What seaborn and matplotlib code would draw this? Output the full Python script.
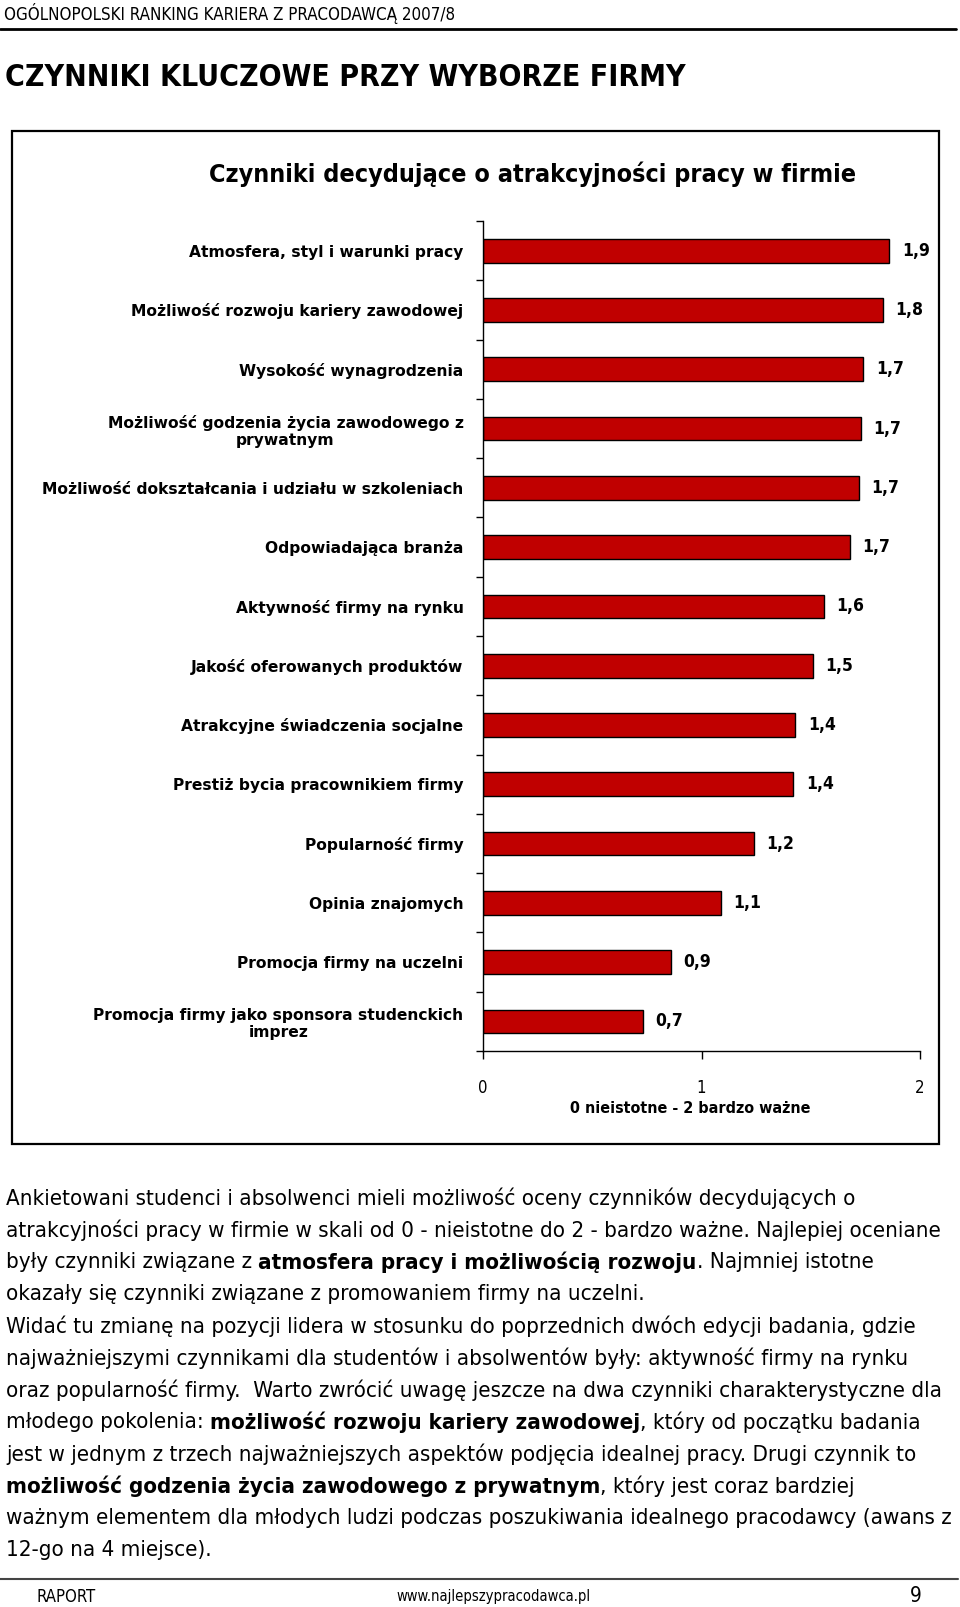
import matplotlib
matplotlib.use("Agg")
import matplotlib.pyplot as plt
import seaborn as sns
import pandas as pd
import numpy as np
from matplotlib.patches import Rectangle
from matplotlib.lines import Line2D

# data (0 = nieistotne, 2 = bardzo ważne)
factors = [
    "Atmosfera, styl i warunki pracy",
    "Możliwość rozwoju kariery zawodowej",
    "Wysokość wynagrodzenia",
    "Możliwość godzenia życia zawodowego z\nprywatnym",
    "Możliwość dokształcania i udziału w szkoleniach",
    "Odpowiadająca branża",
    "Aktywność firmy na rynku",
    "Jakość oferowanych produktów",
    "Atrakcyjne świadczenia socjalne",
    "Prestiż bycia pracownikiem firmy",
    "Popularność firmy",
    "Opinia znajomych",
    "Promocja firmy na uczelni",
    "Promocja firmy jako sponsora studenckich\nimprez",
]
scores = [1.86, 1.83, 1.74, 1.73, 1.72, 1.68, 1.56, 1.51, 1.43, 1.42, 1.24, 1.09, 0.86, 0.73]

header = "OGÓLNOPOLSKI RANKING KARIERA Z PRACODAWCĄ 2007/8"
section_title = "CZYNNIKI KLUCZOWE PRZY WYBORZE FIRMY"
chart_title = "Czynniki decydujące o atrakcyjności pracy w firmie"
x_label = "0 nieistotne - 2 bardzo ważne"

# paragraph lines as (text, bold) runs
paragraph = [
    [("Ankietowani studenci i absolwenci mieli możliwość oceny czynników decydujących o", False)],
    [("atrakcyjności pracy w firmie w skali od 0 - nieistotne do 2 - bardzo ważne. Najlepiej oceniane", False)],
    [("były czynniki związane z ", False), ("atmosfera pracy i możliwością rozwoju", True), (". Najmniej istotne", False)],
    [("okazały się czynniki związane z promowaniem firmy na uczelni.", False)],
    [("Widać tu zmianę na pozycji lidera w stosunku do poprzednich dwóch edycji badania, gdzie", False)],
    [("najważniejszymi czynnikami dla studentów i absolwentów były: aktywność firmy na rynku", False)],
    [("oraz popularność firmy.  Warto zwrócić uwagę jeszcze na dwa czynniki charakterystyczne dla", False)],
    [("młodego pokolenia: ", False), ("możliwość rozwoju kariery zawodowej", True), (", który od początku badania", False)],
    [("jest w jednym z trzech najważniejszych aspektów podjęcia idealnej pracy. Drugi czynnik to", False)],
    [("możliwość godzenia życia zawodowego z prywatnym", True), (", który jest coraz bardziej", False)],
    [("ważnym elementem dla młodych ludzi podczas poszukiwania idealnego pracodawcy (awans z", False)],
    [("12-go na 4 miejsce).", False)],
]

W, H, DPI = 960, 1607, 100

sns.set_theme(style="white")
plt.rcParams['font.family'] = ['DejaVu Sans']
plt.rcParams['font.stretch'] = 'condensed'
plt.rcParams['text.color'] = 'black'
plt.rcParams['axes.labelcolor'] = 'black'
plt.rcParams['xtick.color'] = 'black'
plt.rcParams['ytick.color'] = 'black'

fig = plt.figure(figsize=(W / DPI, H / DPI), dpi=DPI)
fig.patch.set_facecolor('white')


def fx(px):
    return px / W


def fy(py):
    return 1 - py / H


# page header
fig.text(fx(4), fy(13), header, fontsize=12.2, va='center', ha='left')
fig.add_artist(Line2D([0, fx(956)], [fy(29), fy(29)], transform=fig.transFigure, color='black', lw=2))
fig.text(fx(5), fy(77), section_title, fontsize=21.6, fontweight='bold', va='center', ha='left')

# chart frame
fig.add_artist(Rectangle((fx(12), fy(1144)), fx(939) - fx(12), fy(131) - fy(1144),
                         transform=fig.transFigure, fill=False, edgecolor='black', lw=1.6))
fig.text(fx(533), fy(174), chart_title, fontsize=18, fontweight='bold', va='center', ha='center')

ax = fig.add_axes([fx(483), fy(1051), fx(920) - fx(483), fy(221) - fy(1051)])
df = pd.DataFrame({'factor': factors, 'score': scores})
sns.barplot(data=df, x='score', y='factor', color='#C00000', saturation=1,
            edgecolor='black', linewidth=1, width=0.4, ax=ax)

ax.bar_label(ax.containers[0], labels=[f"{v:.1f}".replace('.', ',') for v in scores],
             padding=9, fontsize=12.5, fontweight='bold')

ax.set_xlim(0, 2)
ax.set_ylim(13.5, -0.5)
ax.set_xticks([0, 1, 2])
ax.set_xticklabels(['0', '1', '2'], fontsize=12)
ax.set_yticks(np.arange(-0.5, 14, 1), minor=True)
ax.tick_params(axis='y', which='major', length=0, pad=14)
ax.tick_params(axis='y', which='minor', left=True, length=5, width=1, color='black', direction='out')
ax.tick_params(axis='x', which='major', bottom=True, length=6, width=1, color='black', direction='out', pad=14)
for lbl in ax.get_yticklabels():
    lbl.set_fontweight('bold')
    lbl.set_fontsize(11.2)
    lbl.set_fontstretch('normal')
    lbl.set_multialignment('center')
ax.set_ylabel('')
ax.set_xlabel(x_label, fontsize=11.5, fontweight='bold')
ax.xaxis.set_label_coords(0.475, -0.06)
ax.xaxis.label.set_va('top')
for side in ['top', 'right']:
    ax.spines[side].set_visible(False)
for side in ['left', 'bottom']:
    ax.spines[side].set_color('black')
    ax.spines[side].set_linewidth(1)

# paragraph below chart, with bold runs
renderer = fig.canvas.get_renderer()
y0, dy = 1198, 32
for i, runs in enumerate(paragraph):
    x = 6
    for txt, bold in runs:
        t = fig.text(fx(x), fy(y0 + i * dy), txt, fontsize=16, va='center', ha='left',
                     fontweight='bold' if bold else 'normal')
        x += t.get_window_extent(renderer=renderer).width

# footer
fig.add_artist(Line2D([0, fx(958)], [fy(1579), fy(1579)], transform=fig.transFigure, color='#444444', lw=1.5))
fig.text(fx(36), fy(1597), "RAPORT", fontsize=12, va='center', ha='left')
fig.text(fx(494), fy(1597), "www.najlepszypracodawca.pl", fontsize=10.5, va='center', ha='center')
fig.text(fx(916), fy(1596), "9", fontsize=15, va='center', ha='center')

fig.savefig("out.png", dpi=DPI)
